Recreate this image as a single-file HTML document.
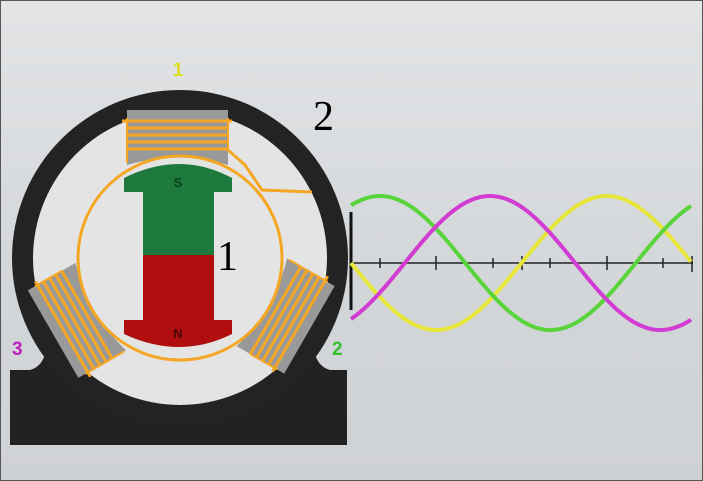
<!DOCTYPE html>
<html><head><style>
body{margin:0;width:703px;height:481px;overflow:hidden;background:linear-gradient(180deg,#e2e4e6,#d3d6d9 60%,#cfd2d5);}
</style></head><body>
<svg width="703" height="481" viewBox="0 0 703 481" style="position:absolute;left:0;top:0">
<rect x="0" y="0" width="703" height="481" fill="none" stroke="#555" stroke-width="2"/>
<!-- base -->
<path d="M10 445 V370 H30 A20 20 0 0 0 45 350 L315 350 A20 20 0 0 0 330 370 H347 V445 Z" fill="#222"/>
<circle cx="180" cy="258" r="168" fill="#232323"/>
<circle cx="180" cy="258" r="147" fill="#e4e4e4"/>
<!-- poles -->
<g id="pole">
<path d="M127 110 H228 V165 Q180 150 127 165 Z" fill="#999"/>
<g stroke="#f5a623" stroke-width="3">
<line x1="122" y1="121" x2="232" y2="121"/><line x1="127" y1="128" x2="228" y2="128"/><line x1="127" y1="135" x2="228" y2="135"/><line x1="127" y1="142" x2="228" y2="142"/><line x1="127" y1="149" x2="228" y2="149"/>
</g>
<path d="M127 118 V163 M228 118 V150" stroke="#f5a623" stroke-width="2"/>
</g>
<use href="#pole" transform="rotate(120 180 258)"/>
<use href="#pole" transform="rotate(-120 180 258)"/>
<!-- wire -->
<circle cx="180" cy="258" r="102" fill="none" stroke="#f5a623" stroke-width="3"/>
<path d="M228 150 L245 165 L262 190 L312 192" fill="none" stroke="#f5a623" stroke-width="3"/>
<!-- rotor -->
<path d="M124 192 V178 Q180 150 232 178 V192 H214 V255 H143 V192 Z" fill="#1e7a3c"/>
<path d="M143 255 H214 V320 H232 V334 Q180 360 124 334 V320 H143 Z" fill="#b10f0f"/>
<text x="178" y="187" font-family="Liberation Sans" font-weight="bold" font-size="13" fill="#0c3d1c" text-anchor="middle">S</text>
<text x="178" y="338" font-family="Liberation Sans" font-weight="bold" font-size="13" fill="#4a0505" text-anchor="middle">N</text>
<!-- labels -->
<text x="178" y="76" font-family="Liberation Sans" font-weight="bold" font-size="19" fill="#dede20" text-anchor="middle">1</text>
<text x="12" y="355" font-family="Liberation Sans" font-weight="bold" font-size="19" fill="#c020c0">3</text>
<text x="332" y="355" font-family="Liberation Sans" font-weight="bold" font-size="19" fill="#30c030">2</text>
<text x="313" y="130" font-family="Liberation Serif" font-size="42" fill="#000">2</text>
<text x="217" y="270" font-family="Liberation Serif" font-size="42" fill="#000">1</text>
<!-- graph -->
<line x1="351" y1="212" x2="351" y2="310" stroke="#111" stroke-width="3"/>
<line x1="351" y1="263" x2="693" y2="263" stroke="#222" stroke-width="1.5"/>
<g stroke="#222" stroke-width="1.5">
<line x1="380" y1="258" x2="380" y2="268"/><line x1="436" y1="256" x2="436" y2="270"/><line x1="493" y1="258" x2="493" y2="268"/><line x1="522" y1="256" x2="522" y2="270"/><line x1="550" y1="258" x2="550" y2="268"/><line x1="607" y1="256" x2="607" y2="270"/><line x1="663" y1="258" x2="663" y2="268"/><line x1="692" y1="256" x2="692" y2="272"/>
</g>
<path id="yel" fill="none" stroke="#e6e63a" stroke-width="4" d=""/>
<path id="grn" fill="none" stroke="#5ad43c" stroke-width="4" d=""/>
<path id="mag" fill="none" stroke="#d23cd2" stroke-width="4" d=""/>
</svg>
<script>
function mk(id,f){var d="";for(var x=351;x<=692;x+=2){d+=(x==351?"M":"L")+x+" "+f(x).toFixed(1)+" ";}document.getElementById(id).setAttribute("d",d);}
var P=341,A=67,C=263,w=2*Math.PI/P;
mk("yel",function(x){return C+A*Math.sin(w*(x-351));});
mk("grn",function(x){return C-A*Math.cos(w*(x-380));});
mk("mag",function(x){return C-A*Math.cos(w*(x-490));});
</script>
</body></html>
